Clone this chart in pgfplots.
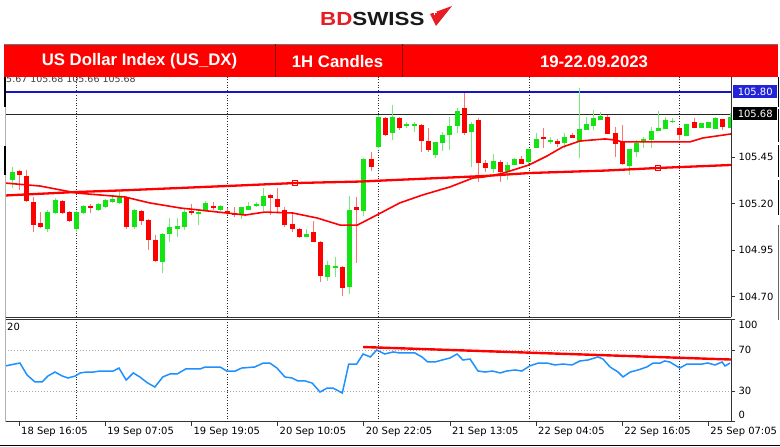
\documentclass[border=0pt]{standalone}
\usepackage{fontspec}
\setmainfont{DejaVu Sans}
\newfontfamily\lib{Liberation Sans}
\usepackage{pgfplots}
\usepackage{pgfplotstable}
\pgfplotsset{compat=1.18}

\definecolor{bannerred}{RGB}{255,0,0}
\definecolor{logored}{RGB}{232,28,36}
\definecolor{cred}{RGB}{255,0,0}
\definecolor{cgreen}{RGB}{20,228,20}
\definecolor{wred}{RGB}{255,115,115}
\definecolor{wgreen}{RGB}{120,235,120}
\definecolor{lineblue}{RGB}{20,20,200}
\definecolor{rsiblue}{RGB}{30,144,255}
\definecolor{boxblue}{RGB}{35,35,215}

% k = bar index, o h l c = open high low close
\pgfplotstableread{
k o h l c
0 105.326 105.396 105.283 105.369
5 105.063 105.165 105.047 105.154
6 105.149 105.230 105.143 105.219
9 105.063 105.160 105.047 105.154
10 105.149 105.192 105.143 105.187
12 105.165 105.203 105.160 105.197
13 105.181 105.224 105.176 105.219
14 105.208 105.246 105.203 105.224
15 105.203 105.267 105.197 105.235
17 105.074 105.170 105.063 105.165
21 104.885 105.041 104.826 105.036
22 105.036 105.122 104.993 105.074
23 105.063 105.122 105.020 105.079
24 105.074 105.176 105.057 105.154
26 105.149 105.160 105.084 105.155
27 105.165 105.213 105.165 105.203
29 105.165 105.192 105.160 105.187
32 105.138 105.181 105.117 105.181
33 105.165 105.208 105.165 105.187
34 105.192 105.208 105.181 105.197
35 105.187 105.283 105.160 105.240
41 105.020 105.063 105.020 105.036
44 104.805 104.891 104.783 104.869
45 104.858 104.912 104.805 104.864
47 104.751 105.240 104.714 105.165
49 105.160 105.445 105.133 105.439
51 105.504 105.675 105.498 105.665
53 105.579 105.729 105.541 105.665
55 105.616 105.638 105.606 105.627
56 105.616 105.638 105.584 105.627
59 105.461 105.531 105.445 105.531
60 105.525 105.584 105.482 105.568
61 105.568 105.665 105.488 105.616
62 105.616 105.713 105.579 105.697
64 105.584 105.638 105.396 105.627
67 105.385 105.466 105.364 105.428
69 105.375 105.423 105.326 105.407
70 105.407 105.445 105.407 105.439
72 105.423 105.493 105.407 105.493
73 105.498 105.579 105.498 105.547
75 105.536 105.557 105.520 105.541
77 105.525 105.579 105.498 105.557
79 105.531 105.821 105.445 105.600
80 105.595 105.665 105.595 105.627
81 105.616 105.702 105.595 105.659
82 105.648 105.692 105.648 105.670
86 105.402 105.493 105.353 105.493
87 105.477 105.541 105.450 105.525
88 105.531 105.557 105.498 105.547
89 105.541 105.611 105.498 105.590
90 105.590 105.697 105.590 105.606
91 105.600 105.665 105.600 105.648
92 105.640 105.659 105.632 105.646
94 105.563 105.627 105.563 105.627
96 105.606 105.632 105.606 105.632
97 105.606 105.638 105.606 105.638
98 105.600 105.665 105.600 105.659
100 105.606 105.686 105.606 105.665
}\upc

\pgfplotstableread{
k o h l c
1 105.375 105.380 105.273 105.353
2 105.348 105.380 105.208 105.213
3 105.208 105.235 105.047 105.084
4 105.095 105.154 105.068 105.074
7 105.213 105.219 105.143 105.149
8 105.154 105.160 105.101 105.106
11 105.187 105.197 105.149 105.176
16 105.235 105.240 105.063 105.074
18 105.160 105.165 105.084 105.106
19 105.111 105.117 104.950 105.004
20 105.004 105.031 104.885 104.891
25 105.160 105.197 105.138 105.149
28 105.187 105.208 105.165 105.176
30 105.160 105.176 105.138 105.149
31 105.149 105.181 105.127 105.138
36 105.246 105.251 105.138 105.230
37 105.224 105.283 105.154 105.181
38 105.165 105.181 105.074 105.084
39 105.090 105.143 105.047 105.063
40 105.063 105.068 105.015 105.020
42 105.047 105.106 104.993 104.993
43 104.993 104.998 104.778 104.810
46 104.858 104.864 104.703 104.746
48 105.181 105.235 104.880 105.165
50 105.439 105.477 105.375 105.396
52 105.659 105.665 105.563 105.568
54 105.659 105.665 105.595 105.606
57 105.622 105.627 105.477 105.536
58 105.536 105.606 105.477 105.488
63 105.713 105.794 105.568 105.579
65 105.648 105.659 105.316 105.418
66 105.418 105.434 105.369 105.391
68 105.423 105.434 105.316 105.369
71 105.439 105.455 105.412 105.412
74 105.557 105.606 105.498 105.547
76 105.536 105.547 105.504 105.520
78 105.568 105.579 105.552 105.552
83 105.665 105.675 105.573 105.573
84 105.579 105.611 105.450 105.520
85 105.531 105.622 105.407 105.412
93 105.606 105.616 105.541 105.568
95 105.638 105.659 105.606 105.606
99 105.654 105.654 105.595 105.611
}\dnc

\pgfplotstableread{
k p
-0.97 105.310
3.9 105.294
9.05 105.256
15.7 105.235
19.2 105.203
23.4 105.176
29.9 105.149
32.5 105.138
35.2 105.154
39.1 105.149
42.5 105.122
45.7 105.084
48.1 105.084
50.8 105.138
54.0 105.203
57.2 105.246
61.0 105.289
64.2 105.337
65.6 105.342
68.0 105.359
69.8 105.380
72.0 105.407
74.5 105.455
76.7 105.504
79.1 105.536
82.6 105.547
84.0 105.541
85.0 105.531
93.0 105.531
94.4 105.531
96.2 105.552
98.2 105.563
100.14 105.574
}\fastma

\pgfplotstableread{
k p
-0.97 105.243
9.05 105.262
15.04 105.270
31.75 105.297
39.42 105.310
48.47 105.318
65.88 105.348
72.14 105.364
82.59 105.377
89.97 105.391
100.14 105.407
}\slowma

\pgfplotstableread{
k v
-0.97 54.4
1.1 57.3
2.1 45.6
3.2 38.8
4.2 38.8
5.0 44.6
6.0 48.5
7.0 44.6
7.8 42.7
8.8 44.6
9.5 47.6
10.4 48.5
11.3 48.5
12.3 49.5
14.1 49.5
14.9 52.4
15.9 40.7
16.9 47.6
17.8 43.7
18.9 37.8
19.9 33.9
21.0 43.7
22.0 46.6
23.0 46.6
24.2 51.5
26.2 51.5
26.9 53.4
29.0 53.4
29.9 49.5
31.1 49.5
32.0 52.4
33.8 53.4
35.0 57.3
35.9 57.3
36.9 52.4
38.0 43.7
39.0 42.7
39.8 39.8
40.8 39.8
41.8 37.8
42.9 29.0
43.9 32.9
44.7 32.9
46.0 28.0
46.9 56.3
48.0 56.3
48.9 66.1
49.9 63.2
50.8 70.0
51.9 66.1
53.1 68.1
54.0 67.1
56.1 67.1
57.1 63.2
57.9 58.3
58.9 58.3
59.9 60.2
61.0 62.2
62.0 66.1
62.8 60.2
63.8 61.2
64.9 49.5
65.9 48.5
66.9 49.5
68.0 47.6
68.9 49.5
70.1 50.5
71.0 49.5
72.1 54.4
73.3 57.3
74.5 57.3
75.6 55.4
76.7 56.3
78.0 55.4
79.1 59.3
80.2 60.2
81.6 63.2
82.3 61.2
83.3 53.4
84.4 48.5
85.1 43.7
86.1 48.5
87.2 50.5
88.4 53.4
89.3 57.3
90.3 57.3
90.9 59.3
91.6 58.3
92.3 55.4
93.0 52.4
94.0 56.3
95.1 56.3
96.1 56.3
96.9 57.3
97.9 55.4
98.9 58.3
99.3 54.4
100.0 57.3
}\rsi

\pgfplotsset{
  chartbase/.style={
    scale only axis, anchor=south west, width=726bp,
    xmin=-0.975, xmax=100.14,
    axis line style={black!80, line width=0.9bp},
    tick align=outside, major tick length=4bp,
    tick style={black!80, line width=0.8bp},
    extra x ticks={9,30,51,72,93},
    extra x tick labels={,,,,},
    extra x tick style={grid=major, major tick length=0pt,
      major grid style={black!85, line width=0.8bp, dash pattern=on 1bp off 1.6bp}},
    ticklabel style={font=\fontsize{10}{12}\selectfont},
    /pgf/number format/assume math mode=true,
  },
  candle/.style 2 args={only marks, mark=*, mark size=0pt, mark options={draw=none, fill=none},
    error bars/.cd, y dir=both, y explicit, error mark=none,
    error bar style={draw=#1, line width=#2}, /pgfplots/.cd},
}

\begin{document}
\begin{tikzpicture}[x=1bp,y=1bp]
\useasboundingbox (0,0) rectangle (780,447);
\fill[white] (0,0) rectangle (780,447);

\begin{scope}
\clip (5,300) rectangle (731,370);
\node[anchor=base west, inner sep=0, text=black!75, font=\fontsize{9.5}{10}\selectfont] at (-6,364.5) {105.67 105.68 105.66 105.68};
\end{scope}

% ---------- price panel ----------
\begin{axis}[chartbase,
  at={(5bp,130bp)}, height=240bp,
  ymin=104.590, ymax=105.880,
  axis x line*=bottom, axis y line*=right,
  xtick=\empty,
  ytick={104.70,104.95,105.20,105.45},
  ytick pos=right, yticklabel pos=right,
  yticklabel style={/pgf/number format/.cd, fixed, fixed zerofill, precision=2},
]
\addplot[lineblue, line width=2bp] coordinates {(-0.975,105.80) (100.14,105.80)};
\addplot[black!85, line width=0.9bp] coordinates {(-0.975,105.68) (100.14,105.68)};
% wicks
\addplot[candle={wgreen}{1bp}]
  table[x=k, y expr={(\thisrow{h}+\thisrow{l})/2}, y error expr={(\thisrow{h}-\thisrow{l})/2}] {\upc};
\addplot[candle={wred}{1bp}]
  table[x=k, y expr={(\thisrow{h}+\thisrow{l})/2}, y error expr={(\thisrow{h}-\thisrow{l})/2}] {\dnc};
% bodies
\addplot[candle={cgreen}{5bp}]
  table[x=k, y expr={(\thisrow{o}+\thisrow{c})/2}, y error expr={max(abs(\thisrow{c}-\thisrow{o})/2,0.003)}] {\upc};
\addplot[candle={cred}{5bp}]
  table[x=k, y expr={(\thisrow{o}+\thisrow{c})/2}, y error expr={max(abs(\thisrow{c}-\thisrow{o})/2,0.003)}] {\dnc};
% moving averages
\addplot[cred, line width=2.3bp] table[x=k, y=p] {\slowma};
\addplot[cred, line width=1.6bp] table[x=k, y=p] {\fastma};
\addplot[only marks, mark=square, mark size=2.3bp, cred, line width=1bp] coordinates {(39.42,105.310) (89.97,105.391)};
\end{axis}

% ---------- RSI panel ----------
\begin{axis}[chartbase,
  at={(5bp,25.25bp)}, height=102.5bp,
  ymin=0, ymax=100,
  axis x line*=box, axis y line*=right,
  xtick={1,13,25,37,49,61,73,85,97},
  xticklabels={18 Sep 16:05, 19 Sep 07:05, 19 Sep 19:05, 20 Sep 10:05, 20 Sep 22:05, 21 Sep 13:05, 22 Sep 04:05, 22 Sep 16:05, 25 Sep 07:05},
  xtick pos=left,
  xticklabel style={anchor=north west, xshift=-1.5bp, yshift=2.5bp},
  ytick={0,30,70,100},
  yticklabels={\raisebox{3.1bp}[0pt][0pt]{0}, 30, 70, \raisebox{-9.4bp}[0pt][0pt]{100}},
  ytick pos=right, yticklabel pos=right,
  extra y ticks={30,70}, extra y tick labels={,},
  extra y tick style={grid=major, major tick length=0pt,
    major grid style={black!35, line width=0.8bp, dash pattern=on 1bp off 2bp}},
]
\addplot[rsiblue, line width=1.5bp] table[x=k, y=v] {\rsi};
\addplot[cred, line width=2.4bp] coordinates {(48.9,72.9) (100.14,60.7)};
\end{axis}

% frame details
\draw[black!30, line width=0.8bp] (5,25) -- (5,370);
\draw[black, line width=1.2bp] (5,340) -- (5,370) (5,272) -- (5,301);
\draw[black, line width=1.5bp] (778.5,340) -- (778.5,370) (778.5,305) -- (778.5,338) (778.5,270) -- (778.5,302) (778.5,232) -- (778.5,267);
\draw[black!60, line width=1bp] (778.5,127) -- (778.5,222);
\draw[black, line width=1.3bp] (0,1.5) -- (780,1.5);
\node[anchor=west, inner sep=0, font=\fontsize{10}{12}\selectfont] at (7,120) {20};

% price boxes
\node[fill=boxblue, text=white, anchor=west, minimum width=44bp, minimum height=13bp, inner sep=0, font=\fontsize{10}{12}\selectfont] at (733,355) {105.80};
\node[fill=black, text=white, anchor=west, minimum width=44bp, minimum height=13bp, inner sep=0, font=\fontsize{10}{12}\selectfont] at (733,333.5) {105.68};

% banner
\fill[bannerred] (4,370) rectangle (778,403);
\draw[black!55, line width=0.8bp] (4,403) -- (778,403);
\draw[red!55!black, line width=0.6bp] (275,370) -- (275,403) (402,370) -- (402,403);
\node[text=white, font=\lib\bfseries\fontsize{16.8}{18}\selectfont] at (139.5,385.5) {US Dollar Index (US\_DX)};
\node[text=white, font=\lib\bfseries\fontsize{16.8}{18}\selectfont] at (337.5,385.5) {1H Candles};
\node[text=white, font=\lib\bfseries\fontsize{16.8}{18}\selectfont] at (594,385.5) {19-22.09.2023};

% logo
\node[anchor=west, inner sep=0, font=\lib\bfseries\fontsize{19}{20}\selectfont] at (320,428.5) {\scalebox{1.18}[1]{\textcolor{logored}{BD}\textcolor{black!90}{SWISS}}};
\fill[logored] (430,433) -- (452,441) -- (436,421) -- cycle;
\draw[white, line width=1bp] (432,434.5) -- (437,434.5) (434.5,432) -- (434.5,437);
\end{tikzpicture}
\end{document}
